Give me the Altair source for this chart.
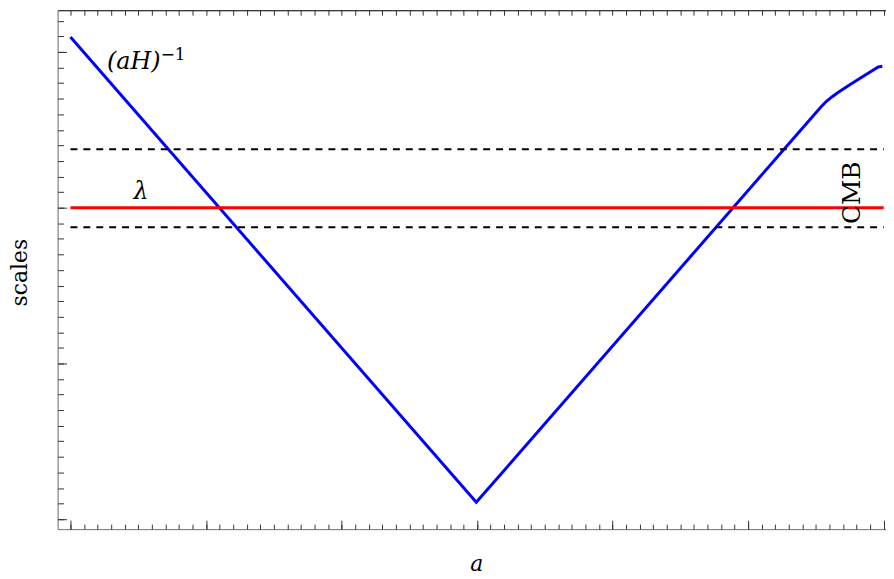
import altair as alt
import pandas as pd

# ---- data (units: minor tick steps) ----
blue_x = [0.0, 29.94, 55.4, 55.8, 56.2, 56.6, 57.5, 58.7, 59.6, 59.9]
blue_y = [30.96, 1.08, 26.5, 26.85, 27.13, 27.38, 27.9, 28.55, 29.04, 29.08]
lambda_x = [0, 60]
lambda_y = [20.0, 20.0]
cmb_x = [0, 60]
cmb_hi = [23.75, 23.75]
cmb_lo = [18.75, 18.75]

x_minor = list(range(0, 61))
x_major = [0, 10, 20, 30, 40, 50, 60]
y_minor = list(range(0, 33))
y_major = [0, 10, 20, 30]

labels_text = ["(aH)", "\u22121", "\u03bb", "CMB"]
labels_x = [2.7, 6.66, 5.2, 58.27]
labels_y = [28.92, 29.49, 20.57, 20.96]

W, H = 835, 523
xs = alt.Scale(domain=[-0.95, 60.17], nice=False, zero=False)
ys = alt.Scale(domain=[-0.64, 32.68], nice=False, zero=False)
SERIF = "DejaVu Serif"
TICK = "#333333"

blue_df = pd.DataFrame({"x": blue_x, "y": blue_y})
red_df = pd.DataFrame({"x": lambda_x, "y": lambda_y})
hi_df = pd.DataFrame({"x": cmb_x, "y": cmb_hi})
lo_df = pd.DataFrame({"x": cmb_x, "y": cmb_lo})

blue = alt.Chart(blue_df).mark_line(color="#0000ff", strokeWidth=3).encode(
    x=alt.X("x:Q", scale=xs, axis=alt.Axis(
        orient="bottom", title="a", labels=False, ticks=False, grid=False,
        domainColor="#777777", domainWidth=1,
        titleFont=SERIF, titleFontStyle="italic", titleFontWeight="normal",
        titleFontSize=22, titleColor="black", titleX=422, titleY=41.5,
        titleBaseline="alphabetic", titleAlign="center")),
    y=alt.Y("y:Q", scale=ys, axis=alt.Axis(
        orient="left", title="scales", labels=False, ticks=False, grid=False,
        domainColor="#777777", domainWidth=1,
        titleFont=SERIF, titleFontWeight="normal", titleFontSize=22,
        titleColor="black", titleAngle=270, titleX=-38, titleY=264,
        titleBaseline="middle", titleAlign="center")),
)

red = alt.Chart(red_df).mark_line(color="#ff0000", strokeWidth=3).encode(
    x=alt.X("x:Q", scale=xs, axis=alt.Axis(
        orient="top", offset=-H, values=x_minor, tickSize=5, tickColor=TICK,
        labels=False, domain=False, grid=False, title=None)),
    y=alt.Y("y:Q", scale=ys, axis=alt.Axis(
        orient="right", offset=-W, values=y_minor, tickSize=6, tickColor=TICK,
        labels=False, domain=False, grid=False, title=None)),
)

dash_hi = alt.Chart(hi_df).mark_line(color="black", strokeWidth=2, strokeDash=[7, 6]).encode(
    x=alt.X("x:Q", scale=xs, axis=alt.Axis(
        orient="top", offset=-H, values=x_major, tickSize=9, tickColor=TICK,
        labels=False, domain=False, grid=False, title=None)),
    y=alt.Y("y:Q", scale=ys, axis=alt.Axis(
        orient="right", offset=-W, values=y_major, tickSize=9, tickColor=TICK,
        labels=False, domain=False, grid=False, title=None)),
)

dash_lo = alt.Chart(lo_df).mark_line(color="black", strokeWidth=2, strokeDash=[7, 6]).encode(
    x=alt.X("x:Q", scale=xs, axis=alt.Axis(
        orient="bottom", offset=-H, values=x_minor, tickSize=5, tickColor=TICK,
        labels=False, domain=True, domainColor="black", grid=False, title=None)),
    y=alt.Y("y:Q", scale=ys, axis=None),
)

lab_df = pd.DataFrame({"t": labels_text, "x": labels_x, "y": labels_y})

def label(i, size, align, angle=0, italic=True):
    kw = dict(font=SERIF, fontSize=size, align=align, baseline="alphabetic", color="black")
    if italic:
        kw["fontStyle"] = "italic"
    if angle:
        kw["angle"] = angle
    return alt.Chart(lab_df.iloc[[i]]).mark_text(**kw).encode(
        x=alt.X("x:Q", scale=xs, axis=None),
        y=alt.Y("y:Q", scale=ys, axis=None),
        text="t:N",
    )

aH = label(0, 24, "left")
sup = label(1, 17, "left", italic=False)
lam = label(2, 24, "center")
cmb = label(3, 25, "center", angle=270, italic=False)

chart = alt.layer(blue, red, dash_hi, dash_lo, aH, sup, lam, cmb).resolve_axis(
    x="independent", y="independent"
).properties(
    width=W, height=H,
    autosize=alt.AutoSizeParams(type="none"),
    padding={"left": 50, "top": 0, "right": 0, "bottom": 48},
).configure_view(stroke=None).configure(background="white")

chart.save("out.html", embed_options={"renderer": "svg", "actions": False})
